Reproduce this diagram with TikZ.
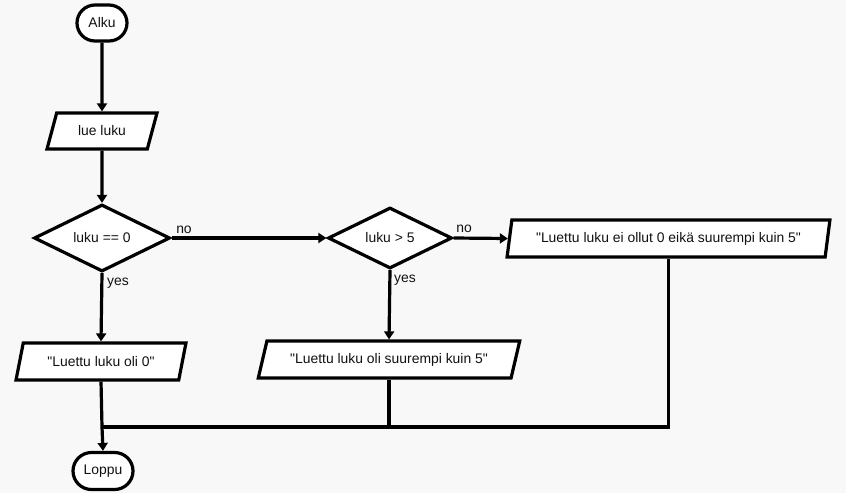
\documentclass[tikz,border=0pt]{standalone}
\usepackage{fontspec}
\setmainfont{Liberation Sans}[Ligatures=TeXOff]
\usetikzlibrary{shapes.geometric,shapes.misc,arrows.meta}
\definecolor{bg}{HTML}{F8F8F8}
\definecolor{ink}{HTML}{111111}
\begin{document}
\begin{tikzpicture}[x=1pt,y=-1pt,
 every node/.style={font=\fontsize{13.9}{16}\selectfont, text=ink},
 shp/.style={draw=black, line width=3.2pt, fill=white, inner sep=0pt},
 term/.style={shp, rounded rectangle},
 io/.style={shp, trapezium, trapezium stretches=true},
 dec/.style={shp, diamond, aspect=2},
 line/.style={line width=3.2pt, draw=black},
 conn/.style={line, -{Triangle[length=8pt,width=10pt]}}
]
\fill[bg] (0,0) rectangle (846,493);
\useasboundingbox (0,0) rectangle (846,493);

\node[term, minimum width=50pt, minimum height=36pt] (alku) at (102,23) {Alku};
\node[io, trapezium left angle=63.4, trapezium right angle=116.6, minimum width=110pt, minimum height=36pt] (lue) at (102,131) {lue luku};
\node[dec, minimum width=136pt, minimum height=67pt] (d1) at (102,238) {luku == 0};
\node[dec, minimum width=124pt, minimum height=61pt] (d2) at (390,238) {luku > 5};
\node[io, trapezium left angle=72.7, trapezium right angle=107.3, minimum width=323pt, minimum height=37pt] (p3) at (668.5,238.5) {"Luettu luku ei ollut 0 eikä suurempi kuin 5"};
\node[io, trapezium left angle=64, trapezium right angle=116, minimum width=170pt, minimum height=37pt] (p1) at (101,361.5) {"Luettu luku oli 0"};
\node[io, trapezium left angle=61.6, trapezium right angle=118.4, minimum width=262pt, minimum height=37pt] (p2) at (389,359.5) {"Luettu luku oli suurempi kuin 5"};
\node[term, minimum width=60pt, minimum height=37pt] (loppu) at (103,471) {Loppu};

\node (no1) at (184,230) {no};
\node (yes1) at (118,283) {yes};
\node (no2) at (464,229) {no};
\node (yes2) at (405,280) {yes};

\coordinate (j) at (102,427);

\draw[conn] (alku) -- (lue);
\draw[conn] (lue) -- (d1);
\draw[conn] (d1.east) -- (d2.west);
\draw[conn] (d2.east) -- (p3.west);
\draw[conn] (d1.south) -- (p1.north);
\draw[conn] (d2.south) -- (p2.north);
\draw[line] (p1.south) -- (j);
\draw[line] (p2.south) |- (j);
\draw[line] (p3.south) |- (j);
\draw[conn] (j) -- (loppu.north);
\end{tikzpicture}
\end{document}
